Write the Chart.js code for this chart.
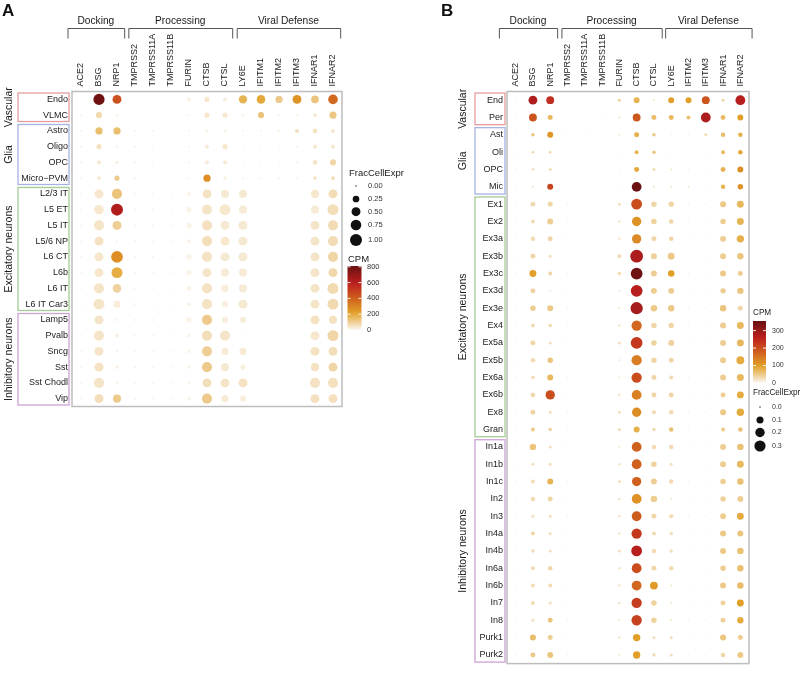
<!DOCTYPE html>
<html>
<head>
<meta charset="utf-8">
<script src="https://cdn.jsdelivr.net/npm/chart.js@4/dist/chart.umd.min.js"></script>
<style>
html,body{margin:0;padding:0;background:#fff;}
#wrap{position:relative;width:800px;height:673px;overflow:hidden;}
#wrap canvas{position:absolute;top:0;}
</style>
</head>
<body>
<div id="wrap">
  <canvas id="chartA" width="430" height="673" style="left:0"></canvas>
  <canvas id="chartB" width="400" height="673" style="left:400px"></canvas>
</div>
<script>
// --- Datos ---
const genesA = ['ACE2','BSG','NRP1','TMPRSS2','TMPRSS11A','TMPRSS11B','FURIN','CTSB','CTSL','LY6E','IFITM1','IFITM2','IFITM3','IFNAR1','IFNAR2'];
const genesB = ['ACE2','BSG','NRP1','TMPRSS2','TMPRSS11A','TMPRSS11B','FURIN','CTSB','CTSL','LY6E','IFITM2','IFITM3','IFNAR1','IFNAR2'];
const headerNames = ['Docking','Processing','Viral Defense'];
const headerSpanA = [3,6,6];
const headerSpanB = [3,6,5];

const rowsA = ['Endo','VLMC','Astro','Oligo','OPC','Micro\u2212PVM','L2/3 IT','L5 ET','L5 IT','L5/6 NP','L6 CT','L6b','L6 IT','L6 IT Car3','Lamp5','Pvalb','Sncg','Sst','Sst Chodl','Vip'];
const rowsB = ['End','Per','Ast','Oli','OPC','Mic','Ex1','Ex2','Ex3a','Ex3b','Ex3c','Ex3d','Ex3e','Ex4','Ex5a','Ex5b','Ex6a','Ex6b','Ex8','Gran','In1a','In1b','In1c','In2','In3','In4a','In4b','In6a','In6b','In7','In8','Purk1','Purk2'];
const groupNames = ['Vascular','Glia','Excitatory neurons','Inhibitory neurons'];
const groupSpanA = [2,4,8,6];
const groupSpanB = [2,4,14,13];

// FracCellExpr (fila x gen)
const fracA = [
  [0,0.85,0.50,0,0,0,0.06,0.12,0.06,0.42,0.45,0.30,0.50,0.35,0.60],
  [0.01,0.19,0.02,0,0,0,0.01,0.12,0.12,0.02,0.19,0.01,0.02,0.06,0.28],
  [0.01,0.30,0.30,0.01,0.01,0,0.01,0.03,0.03,0.01,0.01,0.02,0.06,0.10,0.06],
  [0.01,0.12,0.02,0.01,0.005,0,0.01,0.06,0.12,0.005,0.005,0.005,0.01,0.06,0.06],
  [0.01,0.06,0.03,0.01,0.005,0,0.01,0.06,0.06,0.005,0.005,0.005,0.01,0.10,0.19],
  [0.01,0.04,0.12,0.01,0,0,0.01,0.30,0.03,0.01,0.01,0.01,0.01,0.04,0.06],
  [0.005,0.51,0.66,0.01,0.005,0.005,0.06,0.51,0.39,0.39,0,0,0,0.39,0.51],
  [0.005,0.58,1.00,0.01,0.01,0.005,0.12,0.66,0.82,0.39,0,0,0,0.39,0.82],
  [0.005,0.66,0.51,0.01,0.01,0.005,0.12,0.66,0.51,0.51,0,0,0,0.51,0.66],
  [0.005,0.51,0.01,0.01,0.005,0.005,0.06,0.66,0.51,0.51,0,0,0,0.51,0.66],
  [0.005,0.51,0.95,0.01,0.01,0.005,0.12,0.66,0.51,0.51,0,0,0,0.51,0.66],
  [0.005,0.51,0.82,0.01,0.005,0.005,0.12,0.51,0.39,0.39,0,0,0,0.51,0.51],
  [0.005,0.66,0.45,0.01,0.005,0.005,0.10,0.66,0.30,0.39,0,0,0,0.51,0.82],
  [0.005,0.82,0.28,0.01,0.005,0.005,0.06,0.66,0.19,0.51,0,0,0,0.51,0.82],
  [0.005,0.51,0.02,0.01,0.01,0.005,0.12,0.66,0.19,0.19,0,0,0,0.51,0.39],
  [0.005,0.66,0.06,0.01,0.01,0.005,0.04,0.66,0.66,0.005,0,0,0,0.51,0.82],
  [0.005,0.51,0.02,0.01,0.005,0.005,0.04,0.66,0.28,0.28,0,0,0,0.51,0.51],
  [0.005,0.51,0.04,0.01,0.005,0.005,0.04,0.66,0.39,0.12,0,0,0,0.39,0.51],
  [0.005,0.66,0.02,0.005,0.005,0.005,0.02,0.51,0.51,0.51,0,0,0,0.66,0.66],
  [0.005,0.51,0.39,0.01,0.005,0.005,0.04,0.66,0.28,0.19,0,0,0,0.51,0.51]
];
// CPM (fila x gen)
const cpmA = [
  [0,790,440,0,0,0,20,40,25,170,200,110,260,130,380],
  [5,70,10,0,0,0,5,40,35,15,130,5,10,30,120],
  [5,140,140,5,5,0,5,15,15,5,5,10,60,50,40],
  [5,50,10,5,3,0,5,30,40,3,3,3,5,40,40],
  [5,40,20,5,3,0,5,30,35,3,3,3,5,45,80],
  [5,40,110,5,0,0,5,270,20,5,5,5,5,50,60],
  [3,40,130,5,3,3,15,50,35,35,0,0,0,40,65],
  [3,40,620,5,5,3,15,45,40,30,0,0,0,30,60],
  [3,45,100,5,5,3,15,55,35,35,0,0,0,45,65],
  [3,50,5,5,3,3,15,60,40,35,0,0,0,45,65],
  [3,40,270,5,5,3,15,50,35,35,0,0,0,45,80],
  [3,40,190,5,3,3,15,45,30,30,0,0,0,45,75],
  [3,45,90,5,3,3,15,50,25,30,0,0,0,45,70],
  [3,45,25,5,3,3,12,50,20,35,0,0,0,45,70],
  [3,45,10,5,5,3,15,110,25,25,0,0,0,50,50],
  [3,45,20,5,5,3,10,60,45,3,0,0,0,40,80],
  [3,45,10,5,3,3,10,100,30,30,0,0,0,50,60],
  [3,50,15,5,3,3,10,110,35,20,0,0,0,50,80],
  [3,45,10,3,3,3,10,60,45,50,0,0,0,50,55],
  [3,60,110,5,3,3,10,110,30,25,0,0,0,55,55]
];

const fracB = [
  [0,0.173,0.13,0,0,0,0.008,0.065,0.001,0.065,0.065,0.13,0.008,0.22],
  [0,0.13,0.04,0,0,0,0.001,0.13,0.04,0.04,0.021,0.22,0.04,0.065],
  [0,0.014,0.065,0,0,0,0.001,0.04,0.014,0,0,0.004,0.03,0.03],
  [0,0.004,0.004,0,0,0,0,0.021,0.014,0,0,0,0.021,0.03],
  [0,0.004,0.004,0,0,0,0,0.04,0.004,0.001,0,0,0.04,0.065],
  [0,0.001,0.065,0,0,0,0,0.22,0.001,0.001,0.001,0,0.03,0.052],
  [0,0.04,0.04,0,0,0,0.008,0.275,0.052,0.052,0,0,0.065,0.095],
  [0,0.021,0.065,0,0,0,0.004,0.196,0.052,0.03,0,0,0.052,0.095],
  [0,0.03,0.04,0,0,0,0.004,0.196,0.04,0.03,0,0,0.065,0.112],
  [0,0.04,0.008,0,0,0,0.021,0.40,0.065,0.095,0,0,0.065,0.079],
  [0,0.095,0.021,0,0,0,0.014,0.335,0.065,0.079,0,0,0.065,0.04],
  [0,0.04,0.001,0,0,0,0.001,0.335,0.065,0.065,0,0,0.052,0.079],
  [0,0.052,0.065,0,0,0,0.001,0.367,0.079,0.079,0,0,0.079,0.04],
  [0,0.021,0.014,0,0,0,0.004,0.247,0.052,0.052,0,0,0.065,0.095],
  [0,0.04,0.008,0,0,0,0.008,0.335,0.052,0.065,0,0,0.065,0.095],
  [0,0.03,0.052,0,0,0,0.001,0.247,0.052,0.04,0,0,0.065,0.13],
  [0,0.014,0.065,0,0,0,0.001,0.247,0.04,0.021,0,0,0.065,0.095],
  [0,0.03,0.196,0,0,0,0.004,0.22,0.04,0.04,0,0,0.04,0.095],
  [0,0.04,0.008,0,0,0,0.008,0.196,0.021,0.03,0,0,0.065,0.112],
  [0,0.021,0.014,0,0,0,0.008,0.065,0.008,0.03,0,0,0.021,0.03],
  [0,0.079,0.008,0,0,0,0.001,0.22,0.03,0.03,0,0,0.065,0.079],
  [0,0.008,0.008,0,0,0,0.004,0.22,0.052,0.008,0,0,0.065,0.095],
  [0,0.021,0.065,0,0,0,0.008,0.196,0.065,0.03,0,0,0.052,0.079],
  [0,0.03,0.04,0,0,0,0.004,0.22,0.079,0.001,0,0,0.052,0.065],
  [0,0.008,0.008,0,0,0,0.004,0.22,0.04,0.021,0,0,0.065,0.095],
  [0,0.021,0.008,0,0,0,0.004,0.247,0.021,0.014,0,0,0.065,0.065],
  [0,0.014,0.008,0,0,0,0.008,0.275,0.03,0.014,0,0,0.065,0.079],
  [0,0.021,0.03,0,0,0,0.004,0.22,0.04,0.03,0,0,0.052,0.079],
  [0,0.021,0.021,0,0,0,0.004,0.22,0.13,0.001,0,0,0.065,0.079],
  [0,0.021,0.008,0,0,0,0.004,0.247,0.052,0.001,0,0,0.04,0.095],
  [0,0.008,0.04,0,0,0,0.001,0.247,0.052,0.001,0,0,0.04,0.079],
  [0,0.065,0.04,0,0,0,0.004,0.112,0.008,0.008,0,0,0.065,0.04],
  [0,0.04,0.065,0,0,0,0.001,0.112,0.014,0.008,0,0,0.03,0.065]
];
const cpmB = [
  [10,275,240,0,0,0,40,75,20,100,100,190,35,265],
  [10,190,70,0,0,10,25,185,65,70,60,275,65,100],
  [10,55,110,10,10,0,20,80,50,15,15,40,65,80],
  [10,35,35,0,0,0,10,75,55,10,10,10,70,90],
  [10,30,35,0,0,0,10,90,40,20,10,10,75,120],
  [10,20,210,0,0,0,10,355,25,20,20,10,75,115],
  [10,30,35,10,0,0,25,200,35,35,10,10,50,70],
  [10,30,45,10,0,0,20,115,40,35,10,10,45,75],
  [10,30,35,10,0,0,20,125,35,35,10,10,45,80],
  [10,35,25,10,0,0,30,275,40,50,10,10,45,55],
  [10,100,35,10,0,0,30,350,45,100,10,10,50,45],
  [10,40,20,10,0,0,20,265,45,45,10,10,45,55],
  [10,45,50,10,0,0,20,285,50,50,10,10,55,35],
  [10,30,30,10,0,0,20,165,35,35,10,10,45,70],
  [10,35,25,10,0,0,25,225,40,40,10,10,45,70],
  [10,30,55,10,0,0,20,140,35,35,10,10,45,85],
  [10,30,70,10,0,0,20,200,35,30,10,10,45,70],
  [10,35,200,10,0,0,20,135,35,35,10,10,45,85],
  [10,35,25,10,0,0,25,120,30,30,10,10,50,85],
  [10,50,40,10,0,0,30,80,40,60,10,10,50,60],
  [10,55,25,10,0,0,20,175,30,30,10,10,45,60],
  [10,25,25,10,0,0,20,175,40,25,10,10,45,70],
  [10,30,75,10,0,0,25,175,45,30,10,10,45,60],
  [10,30,35,10,0,0,20,115,45,20,10,10,40,45],
  [10,25,25,10,0,0,20,180,35,30,10,10,45,85],
  [10,35,25,10,0,0,20,225,30,25,10,10,50,55],
  [10,30,25,10,0,0,25,265,30,25,10,10,50,60],
  [10,30,35,10,0,0,20,200,35,30,10,10,45,60],
  [10,30,30,10,0,0,20,165,105,20,10,10,50,65],
  [10,30,25,10,0,0,20,220,40,20,10,10,40,100],
  [10,25,55,10,0,0,20,215,40,20,10,10,40,85],
  [10,65,45,10,0,0,20,100,25,25,10,10,55,45],
  [10,50,55,10,0,0,20,100,30,25,10,10,35,50]
];

// escalas de leyenda
const cpmMaxA = 810, cpmTicksA = [0,200,400,600,800];
const cpmMaxB = 355, cpmTicksB = [0,100,200,300];
const fracLegendA = [0,0.25,0.5,0.75,1.0], fracLabelsA = ['0.00','0.25','0.50','0.75','1.00'];
const fracLegendB = [0,0.1,0.2,0.3], fracLabelsB = ['0.0','0.1','0.2','0.3'];

// --- Estilo ---
Chart.defaults.font.family = '"Liberation Sans", Arial, sans-serif';
const FONT = '"Liberation Sans", Arial, sans-serif';
const stops = [[0,[251,248,243]],[0.1,[240,213,166]],[0.27,[226,162,41]],[0.5,[207,94,29]],[0.73,[188,31,31]],[1,[106,17,17]]];
function cpmColor(v, max){
  const t = Math.max(0, Math.min(1, v/max));
  for(let i=1;i<stops.length;i++){
    if(t <= stops[i][0]){
      const [t0,c0] = stops[i-1], [t1,c1] = stops[i];
      const f = (t-t0)/(t1-t0);
      return 'rgb(' + c0.map((c,k)=>Math.round(c+(c1[k]-c)*f)).join(',') + ')';
    }
  }
  return 'rgb(106,17,17)';
}
const sizeA = v => 0.7 + 5.3*Math.sqrt(Math.max(0,v));
const sizeB = v => 0.7 + 4.9*Math.sqrt(Math.max(0,v)/0.3);

function buildPoints(genes, rows, frac, cpm, sizeFn){
  const pts = [];
  rows.forEach((r,i)=> genes.forEach((g,j)=> pts.push({ x:g, y:r, r:sizeFn(frac[i][j]), cpm:cpm[i][j] })));
  return pts;
}

function makeDecor(d){
  return {
    id:'decor'+d.letter,
    afterDraw(chart){
      const c = chart.ctx, a = chart.chartArea, xs = chart.scales.x, ys = chart.scales.y;
      c.save();
      // caja del gráfico
      c.strokeStyle = '#BDBDBD'; c.lineWidth = 1.5;
      c.strokeRect(a.left, a.top, a.right-a.left, a.bottom-a.top);
      // letra del panel
      c.fillStyle = '#111'; c.font = 'bold 17px '+FONT; c.textAlign='left'; c.textBaseline='top';
      c.fillText(d.letter, d.letterX, 3);
      // corchetes de cabecera
      const sx = xs.getPixelForValue(1) - xs.getPixelForValue(0);
      let idx = 0;
      c.strokeStyle = '#555'; c.lineWidth = 1;
      c.font = '10.2px '+FONT; c.textAlign='center'; c.textBaseline='alphabetic'; c.fillStyle='#1a1a1a';
      d.headerSpan.forEach((n,k)=>{
        const x0 = xs.getPixelForValue(idx) - d.padL[k]*sx;
        const x1 = xs.getPixelForValue(idx+n-1) + d.padR[k]*sx;
        c.beginPath(); c.moveTo(x0+0.5,38.5); c.lineTo(x0+0.5,28.5); c.lineTo(x1+0.5,28.5); c.lineTo(x1+0.5,38.5); c.stroke();
        c.fillText(headerNames[k], (x0+x1)/2, 24);
        idx += n;
      });
      // grupos de filas
      const sy = ys.getPixelForValue(1) - ys.getPixelForValue(0);
      idx = 0;
      c.lineWidth = 1.3;
      d.groupSpan.forEach((n,k)=>{
        const y0 = ys.getPixelForValue(idx) - sy/2 + 1.5;
        const y1 = ys.getPixelForValue(idx+n-1) + sy/2 - 1.5;
        c.strokeStyle = d.groupColors[k];
        c.strokeRect(d.boxX0, y0, d.boxX1-d.boxX0, y1-y0);
        c.save(); c.translate(d.labelX, (y0+y1)/2); c.rotate(-Math.PI/2);
        c.fillStyle='#1a1a1a'; c.font='10.5px '+FONT; c.textAlign='center'; c.textBaseline='middle';
        c.fillText(groupNames[k],0,0); c.restore();
        idx += n;
      });
      // leyenda de tamaño
      c.fillStyle='#1a1a1a'; c.textAlign='left'; c.textBaseline='middle';
      c.font=d.titleFont+'px '+FONT; c.fillText('FracCellExpr', d.fracTitle[0], d.fracTitle[1]);
      c.font=d.tickFont+'px '+FONT;
      d.fracVals.forEach((v,k)=>{
        c.fillStyle='#111'; c.beginPath(); c.arc(d.fracDotX, d.fracYs[k], d.sizeFn(v), 0, Math.PI*2); c.fill();
        c.fillStyle='#333'; c.fillText(d.fracLabels[k], d.fracLabelX, d.fracYs[k]);
      });
      // barra de color
      c.fillStyle='#1a1a1a'; c.font=d.titleFont+'px '+FONT; c.fillText('CPM', d.cpmTitle[0], d.cpmTitle[1]);
      const b = d.bar;
      const grad = c.createLinearGradient(0, b.bottom, 0, b.top);
      for(let i=0;i<=20;i++){ grad.addColorStop(i/20, cpmColor(i/20*d.cpmMax, d.cpmMax)); }
      c.fillStyle = grad; c.fillRect(b.x, b.top, b.w, b.bottom-b.top);
      c.font=d.tickFont+'px '+FONT;
      d.cpmTicks.forEach(v=>{
        const y = b.bottom - v/d.cpmMax*(b.bottom-b.top);
        c.strokeStyle='rgba(255,255,255,0.9)'; c.lineWidth=1;
        c.beginPath(); c.moveTo(b.x, y); c.lineTo(b.x+3, y); c.moveTo(b.x+b.w-3, y); c.lineTo(b.x+b.w, y); c.stroke();
        c.fillStyle='#333'; c.fillText(String(v), d.cpmLabelX, y);
      });
      c.restore();
    }
  };
}

function makePanel(id, genes, rows, frac, cpm, cpmMax, sizeFn, geom, decor){
  return new Chart(document.getElementById(id).getContext('2d'), {
    type:'bubble',
    data:{ datasets:[{ data: buildPoints(genes, rows, frac, cpm, sizeFn),
      backgroundColor: ctx => cpmColor(ctx.raw ? ctx.raw.cpm : 0, cpmMax),
      borderWidth:0, hoverRadius:0, hoverBorderWidth:0 }] },
    options:{
      responsive:false, animation:false, clip:false,
      layout:{ padding:{ left:0, top:0, right:geom.right, bottom:geom.bottom } },
      plugins:{ legend:{display:false}, tooltip:{enabled:false} },
      scales:{
        x:{ type:'category', labels:genes, position:'top', offset:true,
            grid:{display:false, drawTicks:false}, border:{display:false},
            ticks:{ autoSkip:false, minRotation:90, maxRotation:90, padding:5, labelOffset:10.8, color:'#1a1a1a', font:{size:9} },
            afterFit(s){ s.height = geom.top; } },
        y:{ type:'category', labels:rows, offset:true,
            grid:{display:false, drawTicks:false}, border:{display:false},
            ticks:{ autoSkip:false, padding:4, color:'#1a1a1a', font:{size:9} },
            afterFit(s){ s.width = geom.left; } }
      }
    },
    plugins:[ makeDecor(decor) ]
  });
}

const groupColors = ['#E79C9C','#A6B3E3','#A3CC94','#CDA2D6'];

makePanel('chartA', genesA, rowsA, fracA, cpmA, cpmMaxA, sizeA,
  { left:72, top:91.5, right:88, bottom:266.5 },
  { letter:'A', letterX:2, headerSpan:headerSpanA, padL:[0.75,0.37,0.35], padR:[0.4,0.4,0.4],
    groupSpan:groupSpanA, groupColors, boxX0:18, boxX1:69, labelX:9,
    titleFont:9.5, tickFont:7.5,
    fracTitle:[349,173], fracVals:fracLegendA, fracLabels:fracLabelsA, fracDotX:356, fracLabelX:368,
    fracYs:[186,199,211.7,225,240], sizeFn:sizeA,
    cpmTitle:[348,259], bar:{x:347.5, w:14, top:266, bottom:330}, cpmMax:cpmMaxA, cpmTicks:cpmTicksA, cpmLabelX:367 });

makePanel('chartB', genesB, rowsB, fracB, cpmB, cpmMaxB, sizeB,
  { left:107, top:91.5, right:51, bottom:3 },
  { letter:'B', letterX:41, headerSpan:headerSpanB, padL:[0.97,0.35,0.35], padR:[0.4,0.45,0.65],
    groupSpan:groupSpanB, groupColors, boxX0:75, boxX1:105, labelX:63,
    titleFont:8.2, tickFont:7,
    fracTitle:[353,393], fracVals:fracLegendB, fracLabels:fracLabelsB, fracDotX:360, fracLabelX:372,
    fracYs:[407,420,432.5,446], sizeFn:sizeB,
    cpmTitle:[353,313], bar:{x:353, w:13, top:321, bottom:383}, cpmMax:cpmMaxB, cpmTicks:cpmTicksB, cpmLabelX:372 });
</script>
</body>
</html>
